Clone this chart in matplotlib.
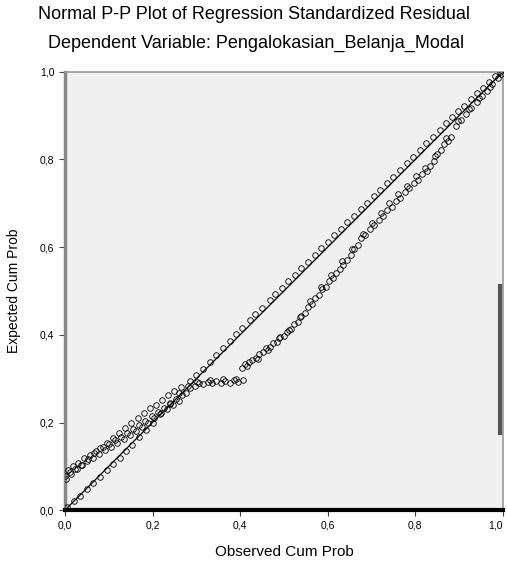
import matplotlib
matplotlib.use("Agg")
import matplotlib.pyplot as plt

# Normal P-P plot of regression standardized residuals
ticks = [0.0, 0.2, 0.4, 0.6, 0.8, 1.0]
tick_labels = ["0,0", "0,2", "0,4", "0,6", "0,8", "1,0"]

# series that bends away from the diagonal
obs_a = [0.000, 0.006, 0.012, 0.018, 0.024, 0.030, 0.036, 0.044, 0.050, 0.058,
         0.064, 0.072, 0.078, 0.086, 0.092, 0.100, 0.106, 0.114, 0.120, 0.128,
         0.134, 0.142, 0.148, 0.156, 0.162, 0.170, 0.176, 0.184, 0.190, 0.198,
         0.204, 0.212, 0.218, 0.226, 0.232, 0.240, 0.246, 0.254, 0.260, 0.268,
         0.276, 0.286, 0.296, 0.306, 0.316, 0.326, 0.336, 0.346, 0.356, 0.366,
         0.376, 0.386, 0.396, 0.406,
         0.404, 0.412, 0.420, 0.428, 0.436, 0.444, 0.452, 0.460, 0.468, 0.476,
         0.484, 0.492, 0.500, 0.508, 0.516, 0.524, 0.532, 0.540, 0.548, 0.556,
         0.564, 0.572, 0.580, 0.588, 0.596, 0.604, 0.612, 0.620, 0.628, 0.636,
         0.644, 0.652, 0.660, 0.668, 0.676, 0.686, 0.696, 0.706, 0.716, 0.726,
         0.736, 0.746, 0.756, 0.766, 0.776, 0.786, 0.796, 0.806, 0.816, 0.826,
         0.834, 0.842, 0.850, 0.858, 0.866, 0.874, 0.882,
         0.892, 0.904, 0.916, 0.928, 0.940, 0.952, 0.964, 0.976, 0.988, 0.996]
exp_a = [0.078, 0.092, 0.086, 0.101, 0.094, 0.108, 0.103, 0.118, 0.112, 0.126,
         0.120, 0.135, 0.128, 0.143, 0.137, 0.151, 0.145, 0.160, 0.153, 0.168,
         0.162, 0.177, 0.171, 0.186, 0.180, 0.195, 0.190, 0.204, 0.199, 0.214,
         0.210, 0.224, 0.219, 0.233, 0.230, 0.243, 0.240, 0.253, 0.250, 0.262,
         0.268, 0.278, 0.283, 0.289, 0.287, 0.293, 0.289, 0.294, 0.290, 0.295,
         0.291, 0.296, 0.292, 0.298,
         0.324, 0.333, 0.337, 0.343, 0.347, 0.356, 0.360, 0.369, 0.372, 0.381,
         0.384, 0.394, 0.398, 0.407, 0.414, 0.424, 0.430, 0.442, 0.450, 0.463,
         0.470, 0.484, 0.490, 0.504, 0.510, 0.523, 0.530, 0.541, 0.550, 0.560,
         0.571, 0.583, 0.596, 0.606, 0.620, 0.628, 0.642, 0.650, 0.663, 0.671,
         0.684, 0.692, 0.706, 0.713, 0.726, 0.734, 0.746, 0.753, 0.766, 0.773,
         0.786, 0.796, 0.812, 0.822, 0.836, 0.843, 0.852,
         0.876, 0.890, 0.903, 0.917, 0.930, 0.944, 0.957, 0.972, 0.986, 0.996]

# more points of the same series, filling out the thick band
obs_a_more = [0.003, 0.015, 0.027, 0.040, 0.053, 0.067, 0.081, 0.096, 0.110, 0.124,
              0.138, 0.152, 0.166, 0.180, 0.194, 0.208, 0.222, 0.236, 0.250, 0.264,
              0.281, 0.301, 0.331, 0.361, 0.391,
              0.416, 0.440, 0.464, 0.488, 0.512, 0.536, 0.560, 0.584, 0.608, 0.632,
              0.656, 0.681, 0.701, 0.721, 0.741, 0.761, 0.781, 0.801, 0.821, 0.846,
              0.870, 0.898, 0.922, 0.946, 0.970]
exp_a_more = [0.071, 0.083, 0.095, 0.104, 0.117, 0.130, 0.141, 0.154, 0.164, 0.176,
              0.188, 0.198, 0.210, 0.221, 0.232, 0.241, 0.252, 0.262, 0.271, 0.280,
              0.284, 0.292, 0.297, 0.299, 0.300,
              0.328, 0.345, 0.366, 0.392, 0.412, 0.441, 0.478, 0.509, 0.536, 0.568,
              0.596, 0.630, 0.655, 0.678, 0.700, 0.722, 0.740, 0.762, 0.780, 0.808,
              0.848, 0.888, 0.914, 0.940, 0.966]

# series lying along the diagonal
obs_b = [0.005, 0.020, 0.034, 0.050, 0.064, 0.080, 0.095, 0.110, 0.126, 0.140,
         0.153, 0.170, 0.185, 0.200, 0.220, 0.240, 0.260, 0.285, 0.300, 0.315,
         0.331, 0.345, 0.360, 0.377, 0.390, 0.405, 0.422, 0.435, 0.450, 0.468,
         0.480, 0.495, 0.510, 0.525, 0.540, 0.555, 0.570, 0.585, 0.600, 0.615,
         0.630, 0.645, 0.660, 0.675, 0.690, 0.705, 0.720, 0.735, 0.750, 0.765,
         0.780, 0.795, 0.810, 0.825, 0.840, 0.856, 0.870, 0.884, 0.898, 0.912,
         0.926, 0.940, 0.954, 0.968, 0.982, 0.994]
exp_b = [0.008, 0.021, 0.033, 0.049, 0.063, 0.076, 0.091, 0.106, 0.120, 0.134,
         0.148, 0.167, 0.183, 0.200, 0.222, 0.245, 0.268, 0.295, 0.308, 0.322,
         0.338, 0.354, 0.370, 0.386, 0.401, 0.416, 0.433, 0.448, 0.462, 0.480,
         0.492, 0.507, 0.522, 0.537, 0.552, 0.567, 0.582, 0.597, 0.612, 0.627,
         0.641, 0.657, 0.671, 0.686, 0.701, 0.716, 0.731, 0.746, 0.761, 0.776,
         0.791, 0.806, 0.822, 0.837, 0.852, 0.868, 0.882, 0.896, 0.910, 0.923,
         0.937, 0.951, 0.964, 0.977, 0.990, 0.999]

plt.rcParams['font.family'] = ['Liberation Sans', 'DejaVu Sans']

fig = plt.figure(figsize=(5.07, 5.65), dpi=100)
ax = fig.add_axes([0.128, 0.097, 0.864, 0.776])
ax.set_facecolor('#f0f0f0')

ax.plot([0, 1], [0, 1], color='black', lw=0.9, zorder=2)
for xs, ys in [(obs_a, exp_a), (obs_a_more, exp_a_more), (obs_b, exp_b)]:
    ax.plot(xs, ys, 'o', ms=4, mfc='none', mec='black', mew=0.6, zorder=3)

# odd dark strip on the right edge of the frame
ax.axvline(0.994, ymin=0.176, ymax=0.511, color='#555555', lw=3, zorder=4)

ax.set_xlim(0, 1)
ax.set_ylim(0, 1)
ax.set_xticks(ticks)
ax.set_xticklabels(tick_labels)
ax.set_yticks(ticks)
ax.set_yticklabels(tick_labels)
ax.tick_params(axis='both', labelsize=7.5, length=4, width=0.8, color='#444444')
ax.get_xticklabels()[-1].set_horizontalalignment('right')

for side in ['top', 'right']:
    ax.spines[side].set_color('#999999')
    ax.spines[side].set_linewidth(1.2)
ax.spines['left'].set_color('#888888')
ax.spines['left'].set_linewidth(2.5)
ax.spines['bottom'].set_color('black')
ax.spines['bottom'].set_linewidth(3)

ax.set_xlabel('Observed Cum Prob', fontsize=11, labelpad=10)
ax.set_ylabel('Expected Cum Prob', fontsize=10, labelpad=14)

fig.text(0.5, 0.975, 'Normal P-P Plot of Regression Standardized Residual',
         ha='center', va='center', fontsize=13)
fig.text(0.505, 0.924, 'Dependent Variable: Pengalokasian_Belanja_Modal',
         ha='center', va='center', fontsize=13)

fig.savefig('out.png', dpi=100)
